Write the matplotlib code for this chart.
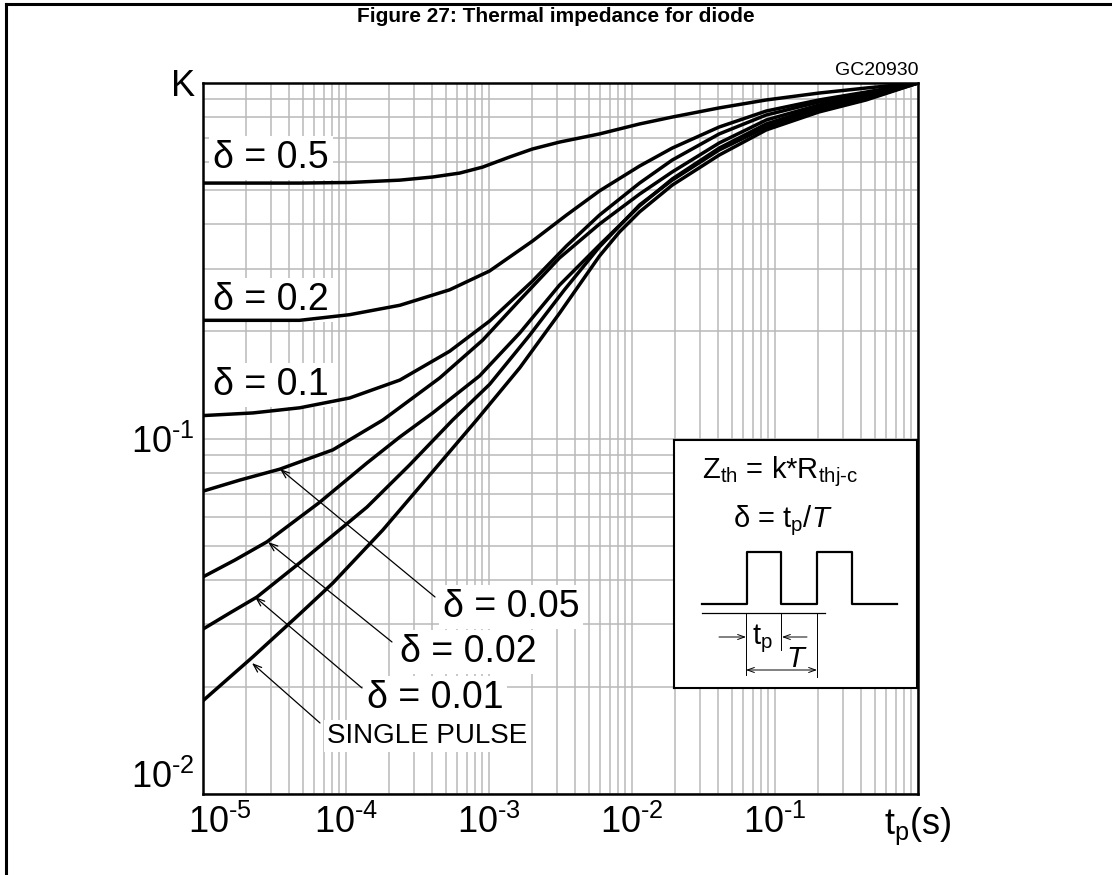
import matplotlib
matplotlib.use("Agg")
import matplotlib.pyplot as plt
import matplotlib.transforms as mtransforms
from matplotlib.lines import Line2D
from matplotlib.ticker import NullFormatter

plt.rcParams['font.family'] = ['Liberation Sans', 'DejaVu Sans']
plt.rcParams['mathtext.fontset'] = 'custom'
plt.rcParams['mathtext.rm'] = 'Liberation Sans'
plt.rcParams['mathtext.it'] = 'Liberation Sans:italic'
plt.rcParams['mathtext.bf'] = 'Liberation Sans:bold'

# pulse time t_p (s) and K = Zth / Rth for each duty cycle
t_d05 = [1e-5, 4.75e-5, 1.06e-4, 2.38e-4, 4.04e-4, 6.24e-4, 9.02e-4, 1.39e-3, 2.01e-3, 3.11e-3,
         5.92e-3, 1.13e-2, 1.91e-2, 4.07e-2, 8.69e-2, 0.203, 0.434, 1.0]
k_d05 = [0.523, 0.523, 0.525, 0.533, 0.544, 0.558, 0.580, 0.619, 0.652, 0.682,
         0.719, 0.767, 0.802, 0.851, 0.896, 0.937, 0.968, 1.0]

t_d02 = [1e-5, 4.75e-5, 1.06e-4, 2.38e-4, 5.31e-4, 1.01e-3, 2.01e-3, 3.48e-3, 5.92e-3, 1.13e-2,
         1.91e-2, 4.07e-2, 8.69e-2, 0.203, 0.434, 1.0]
k_d02 = [0.215, 0.215, 0.223, 0.237, 0.262, 0.296, 0.359, 0.425, 0.497, 0.584,
         0.656, 0.752, 0.834, 0.896, 0.943, 1.0]

t_d01 = [1e-5, 2.23e-5, 4.75e-5, 1.06e-4, 2.38e-4, 5.31e-4, 1.01e-3, 2.01e-3, 3.48e-3, 5.92e-3,
         1.13e-2, 1.91e-2, 4.07e-2, 8.69e-2, 0.203, 0.434, 1.0]
k_d01 = [0.116, 0.118, 0.122, 0.130, 0.146, 0.176, 0.214, 0.277, 0.348, 0.425,
         0.523, 0.607, 0.719, 0.813, 0.884, 0.931, 1.0]

t_d005 = [1e-5, 1.81e-5, 3.45e-5, 8.09e-5, 1.81e-4, 4.52e-4, 9.02e-4, 1.64e-3, 3.11e-3, 5.92e-3,
          1.13e-2, 1.91e-2, 4.07e-2, 8.69e-2, 0.203, 0.434, 1.0]
k_d005 = [0.0711, 0.0764, 0.0820, 0.0929, 0.1127, 0.148, 0.189, 0.245, 0.322, 0.401,
          0.487, 0.562, 0.678, 0.787, 0.867, 0.919, 1.0]

t_d002 = [1e-5, 1.67e-5, 2.80e-5, 6.56e-5, 1.40e-4, 2.38e-4, 4.04e-4, 8.59e-4, 1.64e-3, 3.11e-3,
          5.92e-3, 1.13e-2, 1.91e-2, 4.07e-2, 8.69e-2, 0.203, 0.434, 1.0]
k_d002 = [0.0408, 0.0455, 0.0512, 0.0662, 0.0853, 0.101, 0.118, 0.150, 0.198, 0.270,
          0.350, 0.451, 0.537, 0.656, 0.767, 0.856, 0.913, 1.0]

t_d001 = [1e-5, 1.54e-5, 2.38e-5, 4.75e-5, 1.40e-4, 2.78e-4, 5.57e-4, 1.01e-3, 1.92e-3, 3.37e-3,
          5.92e-3, 1.13e-2, 1.91e-2, 4.07e-2, 8.69e-2, 0.203, 0.434, 1.0]
k_d001 = [0.0291, 0.0323, 0.0358, 0.0447, 0.0641, 0.0842, 0.1127, 0.142, 0.195, 0.262,
          0.346, 0.454, 0.533, 0.648, 0.752, 0.845, 0.902, 1.0]

t_single = [1e-5, 2.23e-5, 4.75e-5, 8.09e-5, 1.81e-4, 3.85e-4, 8.19e-4, 1.64e-3, 3.11e-3, 5.92e-3,
            8.17e-3, 1.13e-2, 1.91e-2, 4.07e-2, 8.69e-2, 0.203, 0.434, 1.0]
k_single = [0.0183, 0.0243, 0.0321, 0.0392, 0.0553, 0.0789, 0.1127, 0.158, 0.225, 0.326,
            0.381, 0.434, 0.516, 0.627, 0.738, 0.829, 0.896, 1.0]

x_ticks = [1e-5, 1e-4, 1e-3, 1e-2, 1e-1, 1.0]
x_labels = [r'$\mathregular{10^{\text{-}5}}$', r'$\mathregular{10^{\text{-}4}}$',
            r'$\mathregular{10^{\text{-}3}}$', r'$\mathregular{10^{\text{-}2}}$',
            r'$\mathregular{10^{\text{-}1}}$', r'$\mathregular{t_p(s)}$']
y_ticks = [1e-2, 1e-1, 1.0]
y_labels = [r'$\mathregular{10^{\text{-}2}}$', r'$\mathregular{10^{\text{-}1}}$', 'K']

W, H = 1112, 875
fig = plt.figure(figsize=(W / 100, H / 100), dpi=100)
ax = fig.add_axes([203 / W, 1 - 794 / H, 715 / W, 711 / H])
ax.set_xscale('log')
ax.set_yscale('log')
ax.set_xlim(1e-5, 1)
ax.set_ylim(1e-2, 1)

ax.grid(which='both', color='#b9b9b9', lw=1.1)
ax.set_axisbelow(True)
ax.set_xticks(x_ticks)
ax.set_xticklabels(x_labels)
ax.set_yticks(y_ticks)
ax.set_yticklabels(y_labels)
ax.xaxis.set_minor_formatter(NullFormatter())
ax.yaxis.set_minor_formatter(NullFormatter())
ax.tick_params(which='both', length=0, labelsize=26)
ax.tick_params(axis='x', pad=8)
ax.tick_params(axis='y', pad=6)
for s in ax.spines.values():
    s.set_linewidth(1.8)

# first x label sits a little to the right, lowest y label a little higher
lab = ax.get_xticklabels()[0]
lab.set_transform(lab.get_transform() + mtransforms.ScaledTranslation(0.17, 0, fig.dpi_scale_trans))
lab = ax.get_yticklabels()[0]
lab.set_transform(lab.get_transform() + mtransforms.ScaledTranslation(0, 0.2, fig.dpi_scale_trans))

for t, k in [(t_d05, k_d05), (t_d02, k_d02), (t_d01, k_d01), (t_d005, k_d005),
             (t_d002, k_d002), (t_d001, k_d001), (t_single, k_single)]:
    ax.plot(t, k, color='black', lw=2.5, solid_joinstyle='round', zorder=3)

box = dict(boxstyle='square,pad=0.1', fc='white', ec='none')
ax.text(0.014, 0.8805, 'δ = 0.5', transform=ax.transAxes, fontsize=27, bbox=box, zorder=1.8)
ax.text(0.014, 0.6807, 'δ = 0.2', transform=ax.transAxes, fontsize=27, bbox=box, zorder=1.8)
ax.text(0.014, 0.5612, 'δ = 0.1', transform=ax.transAxes, fontsize=27, bbox=box, zorder=1.8)
ax.text(0.3357, 0.2489, 'δ = 0.05', transform=ax.transAxes, fontsize=27, bbox=box, zorder=1.8)
ax.text(0.2755, 0.1857, 'δ = 0.02', transform=ax.transAxes, fontsize=27, bbox=box, zorder=1.8)
ax.text(0.2294, 0.1210, 'δ = 0.01', transform=ax.transAxes, fontsize=27, bbox=box, zorder=1.8)
ax.text(0.1734, 0.0717, 'SINGLE PULSE', transform=ax.transAxes, fontsize=20, bbox=box, zorder=1.8)

arrow = dict(arrowstyle='->,head_length=0.6,head_width=0.22', lw=0.9, color='black',
             shrinkA=0, shrinkB=0)
for head, tail in [((0.1077, 0.4571), (0.3245, 0.2771)),
                   ((0.0909, 0.3544), (0.2643, 0.2138)),
                   ((0.0727, 0.2771), (0.2224, 0.1491)),
                   ((0.0685, 0.1842), (0.1636, 0.0999))]:
    ax.annotate('', xy=head, xytext=tail, xycoords='axes fraction', arrowprops=arrow, zorder=2.5)

ax.text(1.0, 1.006, 'GC20930', transform=ax.transAxes, ha='right', va='bottom', fontsize=14)

# inset with definitions, drawn in pixel units
ins = fig.add_axes([674 / W, 1 - 688 / H, 243 / W, 248 / H])
ins.set_xlim(674, 917)
ins.set_ylim(688, 440)
ins.set_xticks([])
ins.set_yticks([])
for s in ins.spines.values():
    s.set_linewidth(1.5)

ins.text(702, 478, r'Z$_{\mathregular{th}}$ = k*R$_{\mathregular{thj}\text{-}\mathregular{c}}$', fontsize=21)
ins.text(733, 527, r'δ = t$_{\mathregular{p}}$/$\mathit{T}$', fontsize=21)

wave_x = [702, 747, 747, 781, 781, 817, 817, 852, 852, 897]
wave_y = [604, 604, 552, 552, 604, 604, 552, 552, 604, 604]
ins.plot(wave_x, wave_y, color='black', lw=1.6)
ins.plot([702, 825], [613, 613], color='black', lw=0.9)
ins.plot([746, 746], [613, 675], color='black', lw=0.7)
ins.plot([781, 781], [613, 650], color='black', lw=0.7)
ins.plot([817, 817], [613, 677], color='black', lw=0.7)
small = dict(arrowstyle='->,head_length=0.5,head_width=0.18', lw=0.7, color='black',
             shrinkA=0, shrinkB=0)
ins.annotate('', xy=(746, 637), xytext=(719, 637), arrowprops=small)
ins.annotate('', xy=(782, 637), xytext=(807, 637), arrowprops=small)
ins.annotate('', xy=(817, 670), xytext=(746, 670),
             arrowprops=dict(arrowstyle='<->,head_length=0.5,head_width=0.18', lw=0.7,
                             color='black', shrinkA=0, shrinkB=0))
ins.text(752, 644, r't$_{\mathregular{p}}$', fontsize=21)
ins.text(786, 667, r'$\mathit{T}$', fontsize=21)

# page frame and caption
fig.add_artist(Line2D([6 / W, 6 / W], [0, 1 - 4 / H], color='black', lw=2.2))
fig.add_artist(Line2D([6 / W, 1], [1 - 4 / H, 1 - 4 / H], color='black', lw=2.2))
fig.text(0.5, 1 - 17 / H, 'Figure 27: Thermal impedance for diode', ha='center', va='center',
         fontsize=15, fontweight='bold', family=['Liberation Sans Narrow', 'Liberation Sans'])

fig.savefig('out.png', dpi=100)
